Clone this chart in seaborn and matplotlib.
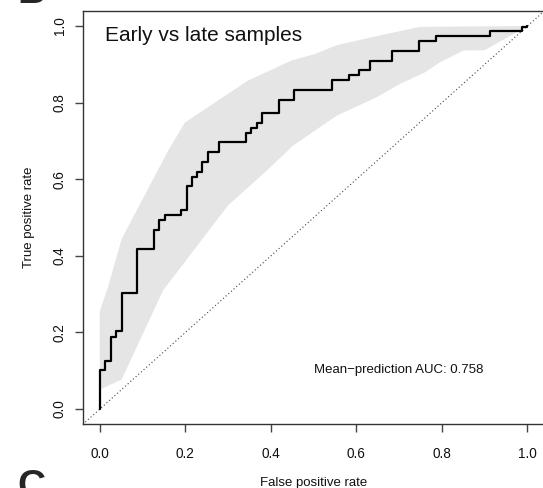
import numpy as np
import pandas as pd
import seaborn as sns
import matplotlib.pyplot as plt

# ROC curve of the mean prediction (step vertices)
fpr = [0.0, 0.0, 0.013, 0.026, 0.039, 0.051, 0.088, 0.126, 0.139, 0.152, 0.189,
       0.203, 0.215, 0.228, 0.240, 0.253, 0.278, 0.341, 0.353, 0.367, 0.380,
       0.419, 0.455, 0.544, 0.583, 0.607, 0.632, 0.684, 0.747, 0.785, 0.912,
       0.988, 1.0]
tpr = [0.0, 0.102, 0.126, 0.188, 0.204, 0.304, 0.418, 0.468, 0.493, 0.506, 0.519,
       0.582, 0.607, 0.620, 0.645, 0.671, 0.696, 0.722, 0.734, 0.747, 0.772,
       0.808, 0.834, 0.859, 0.873, 0.885, 0.910, 0.936, 0.961, 0.973, 0.986,
       0.998, 1.0]

# grey envelope
band_upper_x = [0.0, 0.019, 0.051, 0.16, 0.199, 0.347, 0.448, 0.503, 0.554, 0.632, 0.749, 1.0]
band_upper_y = [0.256, 0.318, 0.444, 0.675, 0.748, 0.858, 0.910, 0.927, 0.950, 0.970, 0.998, 1.0]
band_lower_x = [0.0, 0.051, 0.148, 0.300, 0.386, 0.452, 0.554, 0.647, 0.702, 0.760, 0.795, 0.85, 0.90, 1.0]
band_lower_y = [0.051, 0.077, 0.31, 0.532, 0.618, 0.688, 0.766, 0.814, 0.849, 0.879, 0.905, 0.936, 0.937, 1.0]

ticks = [0.0, 0.2, 0.4, 0.6, 0.8, 1.0]
title = "Early vs late samples"
auc_text = "Mean\u2212prediction AUC: 0.758"

sns.set_theme(style="ticks")
plt.rcParams["font.family"] = ["Liberation Sans", "DejaVu Sans"]

fig = plt.figure(figsize=(5.43, 4.88), dpi=100)
ax = fig.add_axes([0.1523, 0.1303, 0.8506, 0.8477])

poly_x = band_upper_x + band_lower_x[::-1]
poly_y = band_upper_y + band_lower_y[::-1]
ax.fill(poly_x, poly_y, color="#e5e5e5", lw=0, zorder=1)

ax.axline((0, 0), (1, 1), color="#444444", lw=0.8, ls=(0, (1, 2.2)), zorder=2)

roc = pd.DataFrame({"fpr": fpr, "tpr": tpr})
sns.lineplot(data=roc, x="fpr", y="tpr", estimator=None, sort=False,
             drawstyle="steps-post", color="black", lw=1.6, ax=ax, zorder=3)

ax.set_xlim(-0.04, 1.04)
ax.set_ylim(-0.04, 1.04)
ax.set_xticks(ticks)
ax.set_yticks(ticks)
ax.set_xticklabels([f"{t:.1f}" for t in ticks])
ax.set_yticklabels([f"{t:.1f}" for t in ticks], rotation=90, va="center")

for s in ["left", "bottom", "top"]:
    ax.spines[s].set_color("#333333")
    ax.spines[s].set_linewidth(1.0)
ax.spines["right"].set_visible(False)
ax.tick_params(axis="both", length=6, width=1.0, color="#444444",
               labelsize=9.8, labelcolor="#111111")
ax.tick_params(axis="x", pad=10)
ax.tick_params(axis="y", pad=5.5)

ax.set_xlabel("False positive rate", fontsize=9.5, color="#111111")
ax.set_ylabel("True positive rate", fontsize=9.5, color="#111111")
ax.xaxis.set_label_coords(0.5, -0.128)
ax.yaxis.set_label_coords(-0.103, 0.5)

ax.text(0.012, 0.962, title, fontsize=15, ha="left", va="baseline", color="#111111")
ax.text(0.70, 0.093, auc_text, fontsize=9.5, ha="center", va="baseline", color="#111111")

# panel letters cut at the edges, as in the source figure
fig.text(17 / 543, 0.994, "B", fontsize=28, fontweight="bold", va="baseline", ha="left")
fig.text(17 / 543, 0.039, "C", fontsize=28, fontweight="bold", va="top", ha="left")

fig.savefig("out.png", dpi=100)
